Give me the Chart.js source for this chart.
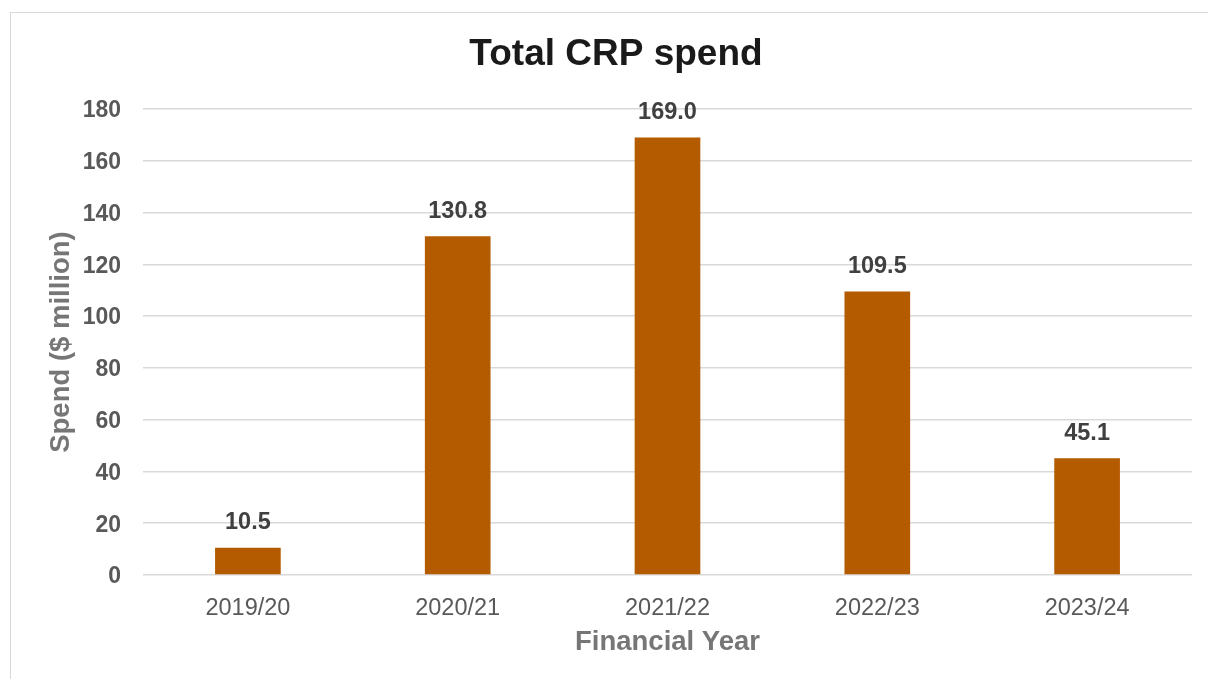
<!DOCTYPE html>
<html>
<head>
<meta charset="utf-8">
<title>Total CRP spend</title>
<script src="https://cdn.jsdelivr.net/npm/chart.js@4.4.1/dist/chart.umd.min.js"></script>
<style>
  html, body { margin: 0; padding: 0; background: #fff; overflow: hidden; }
  #frame {
    position: absolute; left: 10px; top: 12px;
    width: 1300px; height: 800px;
    border: 1.5px solid #d9d9d9; box-sizing: border-box;
  }
  #wrap { position: absolute; left: 0; top: 0; width: 1208px; height: 679px; }
</style>
</head>
<body>
<div id="frame"></div>
<div id="wrap"><canvas id="crp"></canvas></div>
<script>
// Spend per financial year, $ million
const years = ['2019/20', '2020/21', '2021/22', '2022/23', '2023/24'];
const spend = [10.5, 130.8, 169.0, 109.5, 45.1];

const FONT = "'Liberation Sans', Arial, sans-serif";

// value labels above each bar
const barValues = {
  id: 'barValues',
  afterDatasetsDraw(chart) {
    const ctx = chart.ctx;
    const meta = chart.getDatasetMeta(0);
    ctx.save();
    ctx.font = 'bold 23.5px ' + FONT;
    ctx.fillStyle = '#404040';
    ctx.textAlign = 'center';
    ctx.textBaseline = 'middle';
    meta.data.forEach((bar, i) => {
      ctx.fillText(spend[i].toFixed(1), bar.x, bar.y - 25);
    });
    ctx.restore();
  }
};

new Chart(document.getElementById('crp'), {
  type: 'bar',
  data: {
    labels: years,
    datasets: [{
      label: 'Spend',
      data: spend,
      backgroundColor: '#b45b00',
      categoryPercentage: 1,
      barPercentage: 0.313
    }]
  },
  options: {
    responsive: true,
    maintainAspectRatio: false,
    animation: false,
    layout: { padding: { left: 40, right: 16, top: 0, bottom: 0 } },
    plugins: {
      legend: { display: false },
      tooltip: { enabled: false },
      title: {
        display: true,
        text: 'Total CRP spend',
        color: '#1a1a1a',
        font: { family: FONT, size: 37, weight: 'bold' },
        padding: { top: 32.8, bottom: 31.8 }
      }
    },
    scales: {
      x: {
        grid: { display: false },
        border: { display: false },
        ticks: {
          color: '#595959',
          padding: 11,
          font: { family: FONT, size: 23.5 }
        },
        title: {
          display: true,
          text: 'Financial Year',
          color: '#767676',
          font: { family: FONT, size: 27.5, weight: 'bold' },
          padding: { top: 0, bottom: 20 }
        },
        afterFit: s => { s.height = 104; }
      },
      y: {
        min: 0,
        max: 180,
        grid: { color: '#d9d9d9', lineWidth: 1.5, drawTicks: false },
        border: { display: false },
        ticks: {
          stepSize: 20,
          color: '#595959',
          padding: 22,
          labelOffset: 2,
          font: { family: FONT, size: 23, weight: 'bold' }
        },
        title: {
          display: true,
          text: 'Spend ($ million)',
          color: '#767676',
          font: { family: FONT, size: 27.5, weight: 'bold' },
          padding: { top: 4.5, bottom: 0 }
        },
        afterFit: s => { s.width = 103; }
      }
    }
  },
  plugins: [barValues]
});
</script>
</body>
</html>
